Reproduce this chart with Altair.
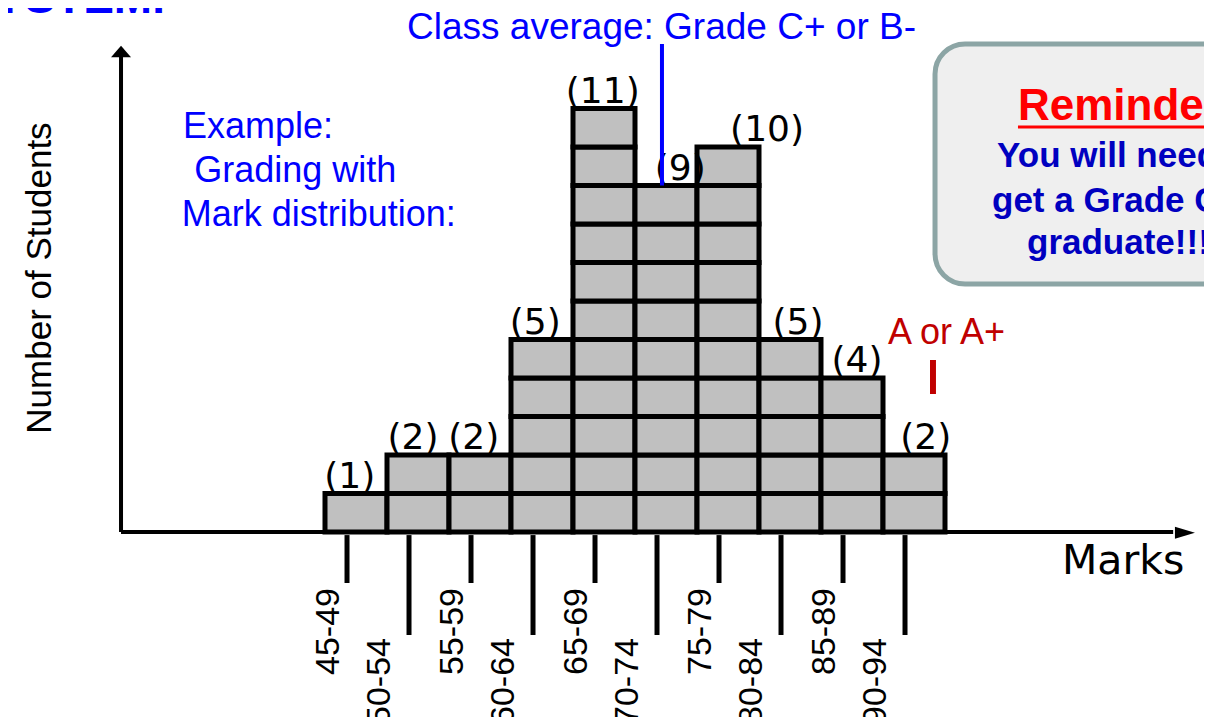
import altair as alt
import pandas as pd

# ---- data ----
bins = ["45-49", "50-54", "55-59", "60-64", "65-69", "70-74", "75-79", "80-84", "85-89", "90-94"]
counts = [1, 2, 2, 5, 11, 9, 10, 5, 4, 2]
count_labels = ["(%d)" % c for c in counts]
# small horizontal nudges of the count labels (in bin widths), as in the picture
label_nudge = [-0.1, -0.08, -0.1, -0.11, -0.02, 0.23, 0.63, 0.13, 0.08, 0.19]

example_lines = ["Example:", "Grading with", "Mark distribution:"]
reminder_lines = ["You will need to", "get a Grade C or above to", "graduate!!!"]

# ---- scales: x in bin units, y in student counts ----
XS = alt.Scale(domain=[-317 / 62, 879 / 62], nice=False, zero=False)
YS = alt.Scale(domain=[-185 / 38.5, 524 / 38.5], nice=False, zero=False)


def X(f, **kw):
    return alt.X(f, type="quantitative", scale=XS, axis=None, **kw)


def Y(f, **kw):
    return alt.Y(f, type="quantitative", scale=YS, axis=None, **kw)


# unit cells of the histogram
cells = pd.DataFrame(
    [{"x0": i, "x1": i + 1, "y0": k, "y1": k + 1, "bin": b}
     for i, (b, c) in enumerate(zip(bins, counts)) for k in range(c)]
)
cell_layer = alt.Chart(cells).mark_rect(fill="#c0c0c0", stroke="black", strokeWidth=5).encode(
    x=X("x0"), x2="x1", y=Y("y0"), y2="y1"
)

# count labels
lab = pd.DataFrame({
    "u": [i + 0.5 + d for i, d in enumerate(label_nudge)],
    "c": counts,
    "t": count_labels,
})
count_layer = alt.Chart(lab).mark_text(
    font="DejaVu Sans", fontSize=36, baseline="alphabetic", align="center", dy=-6, color="black"
).encode(x=X("u"), y=Y("c"), text="t:N")

# tick lines below the axis
ticks = pd.DataFrame({
    "u": [i + 0.355 for i in range(len(bins))],
    "y0": [-0.08] * len(bins),
    "y1": [-1.325 if i % 2 == 0 else -2.675 for i in range(len(bins))],
})
tick_layer = alt.Chart(ticks).mark_rule(color="black", strokeWidth=5).encode(
    x=X("u"), y=Y("y0"), y2="y1"
)

# rotated tick labels
tl = pd.DataFrame({
    "u": [i + 0.355 - (8 / 62 if i % 2 == 0 else 19 / 62) for i in range(len(bins))],
    "c": [-1.455 if i % 2 == 0 else -2.753 for i in range(len(bins))],
    "t": bins,
})
ticklabel_layer = alt.Chart(tl).mark_text(
    font="Liberation Sans", fontSize=34, angle=270, align="right", baseline="alphabetic",
    color="black"
).encode(x=X("u"), y=Y("c"), text="t:N")

# axes lines
axes = pd.DataFrame({
    "x0": [-3.29, -3.29], "x1": [-3.29, 13.68],
    "y0": [0.0, 0.0], "y1": [12.34, 0.0],
})
axis_layer = alt.Chart(axes).mark_rule(color="black", strokeWidth=4).encode(
    x=X("x0"), x2="x1", y=Y("y0"), y2="y1"
)
up_head = alt.Chart(pd.DataFrame({"u": [-3.29], "c": [12.48]})).mark_point(
    shape="M0,-0.58L1,0.58L-1,0.58Z", filled=True, size=400, color="black", opacity=1
).encode(x=X("u"), y=Y("c"))
right_head = alt.Chart(pd.DataFrame({"u": [13.87], "c": [-0.02]})).mark_point(
    shape="M1,0L-1,-0.6L-1,0.6Z", filled=True, size=400, color="black", opacity=1
).encode(x=X("u"), y=Y("c"))

# axis titles
ytitle = alt.Chart(pd.DataFrame({"u": [-4.42], "c": [6.597], "t": ["Number of Students"]})).mark_text(
    font="Liberation Sans", fontSize=35, angle=270, align="center", baseline="alphabetic",
    color="black"
).encode(x=X("u"), y=Y("c"), text="t:N")
xtitle = alt.Chart(pd.DataFrame({"u": [11.887], "c": [-1.091], "t": ["Marks"]})).mark_text(
    font="DejaVu Sans", fontSize=41, align="left", baseline="alphabetic", color="black"
).encode(x=X("u"), y=Y("c"), text="t:N")

# top title (cut off at the top edge)
title = alt.Chart(pd.DataFrame({"u": [-2.581], "c": [13.481], "t": ["GRADING SYSTEM."]})).mark_text(
    font="Liberation Sans", fontSize=46, fontWeight="bold", align="right", baseline="alphabetic",
    color="#0000ff"
).encode(x=X("u"), y=Y("c"), text="t:N")

# class average annotation
avg_text = alt.Chart(pd.DataFrame({"u": [1.323], "c": [12.805], "t": ["Class average: Grade C+ or B-"]})).mark_text(
    font="Liberation Sans", fontSize=37, align="left", baseline="alphabetic", color="#0000ff"
).encode(x=X("u"), y=Y("c"), text="t:N")
avg_line = alt.Chart(pd.DataFrame({"u": [5.435], "y0": [counts[5]], "y1": [12.675]})).mark_rule(
    color="#0000ff", strokeWidth=4
).encode(x=X("u"), y=Y("y0"), y2="y1")

# example text
ex = pd.DataFrame({"u": [-2.29, -2.11, -2.31], "c": [10.234, 9.091, 7.948], "t": example_lines})
ex_layer = alt.Chart(ex).mark_text(
    font="Liberation Sans", fontSize=36, align="left", baseline="alphabetic", color="#0000ff"
).encode(x=X("u"), y=Y("c"), text="t:N")

# A or A+ annotation
a_text = alt.Chart(pd.DataFrame({"u": [9.08], "c": [4.883], "t": ["A or A+"]})).mark_text(
    font="Liberation Sans", fontSize=36, align="left", baseline="alphabetic", color="#c00000"
).encode(x=X("u"), y=Y("c"), text="t:N")
a_mark = alt.Chart(pd.DataFrame({"u": [9.806], "y0": [4.468], "y1": [3.584]})).mark_rule(
    color="#c00000", strokeWidth=6
).encode(x=X("u"), y=Y("y0"), y2="y1")

# reminder box
box = alt.Chart(pd.DataFrame({"x0": [9.839], "x1": [18.5], "y0": [12.675], "y1": [6.442]})).mark_rect(
    fill="#efefef", stroke="#8ca5a5", strokeWidth=5, cornerRadius=30
).encode(x=X("x0"), x2="x1", y=Y("y0"), y2="y1")
rem_title = alt.Chart(pd.DataFrame({"u": [11.177], "c": [10.701], "t": ["Reminder:"]})).mark_text(
    font="Liberation Sans", fontSize=44, fontWeight="bold", align="left", baseline="alphabetic",
    color="#ff0000"
).encode(x=X("u"), y=Y("c"), text="t:N")
rem_ul = alt.Chart(pd.DataFrame({"x0": [11.177], "x1": [16.0], "c": [10.519]})).mark_rule(
    color="#ff0000", strokeWidth=3
).encode(x=X("x0"), x2="x1", y=Y("c"))
rem = pd.DataFrame({"u": [10.839, 10.758, 11.323], "c": [9.481, 8.312, 7.221], "t": reminder_lines})
rem_layer = alt.Chart(rem).mark_text(
    font="Liberation Sans", fontSize=35, fontWeight="bold", align="left", baseline="alphabetic",
    color="#0000c0"
).encode(x=X("u"), y=Y("c"), text="t:N")

chart = alt.layer(
    box, rem_title, rem_ul, rem_layer,
    axis_layer, up_head, right_head,
    cell_layer, tick_layer, ticklabel_layer, count_layer,
    ytitle, xtitle, title, avg_text, ex_layer, a_text, a_mark, avg_line,
).properties(
    width=1196, height=709, padding=0, autosize="none", background="white"
).configure_view(stroke=None)

chart.save("out.html", embed_options={"renderer": "svg", "actions": False})
